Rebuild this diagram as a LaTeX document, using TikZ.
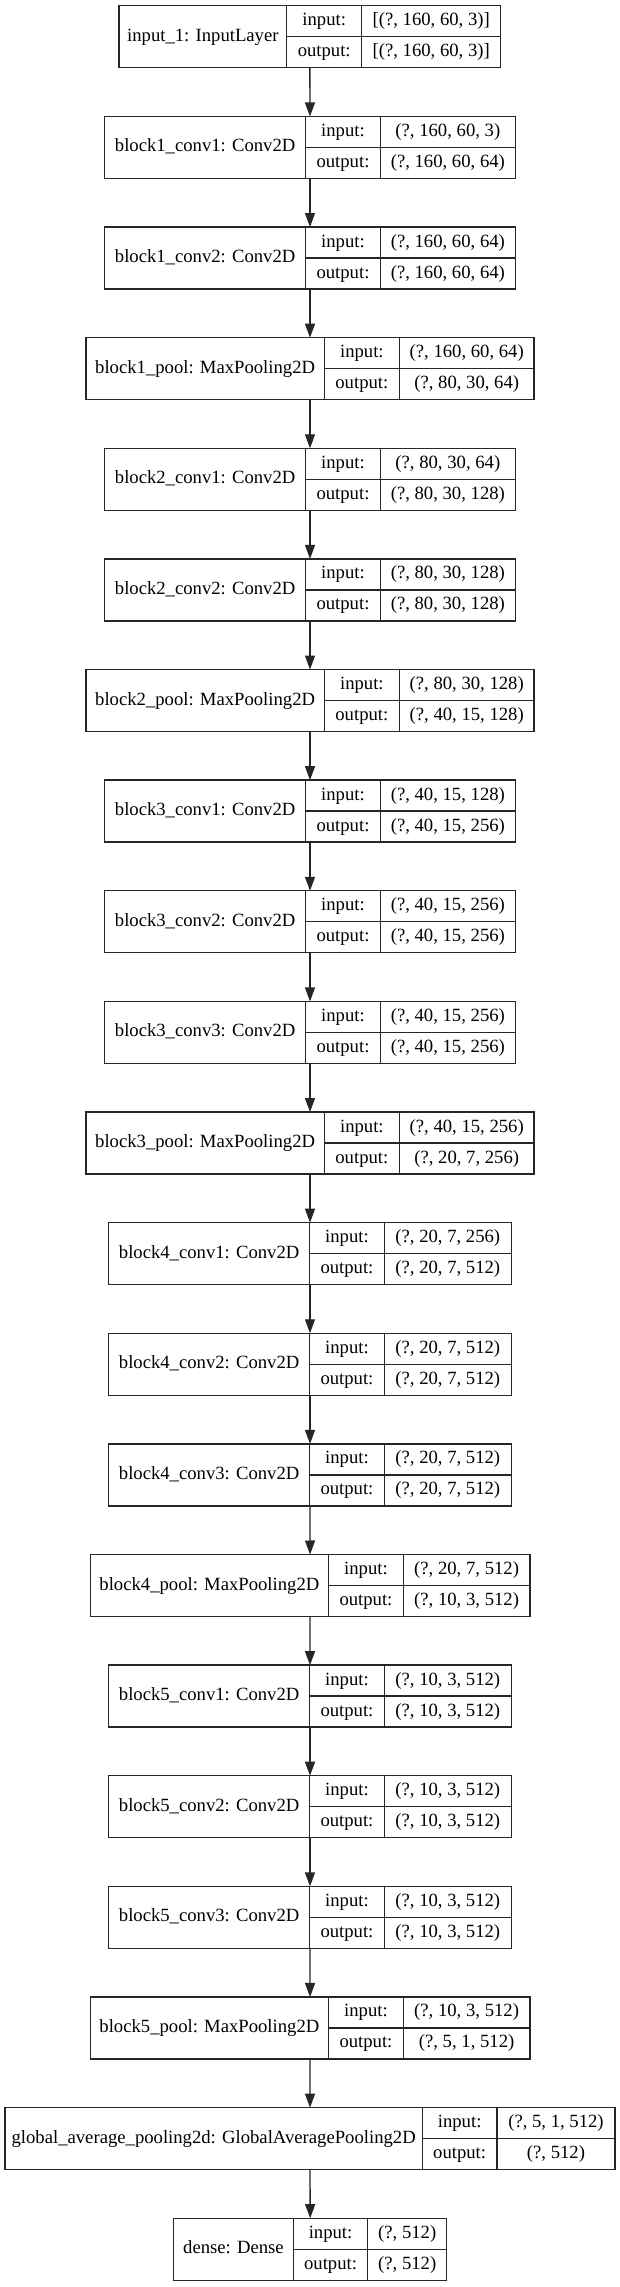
\documentclass[tikz,border=0pt]{standalone}
\usepackage{fontspec}
\setmainfont{Liberation Serif}
\usetikzlibrary{arrows.meta}
\tikzset{
  box/.style={draw=black!85, line width=1.33pt, minimum height=62pt, inner sep=0pt, outer sep=0pt},
  cell/.style={draw=black!85, line width=1.33pt},
  txt/.style={inner sep=0pt, text height=13pt, text depth=4pt, font=\fontsize{18.67}{22}\selectfont},
  flow/.style={draw=black!85, line width=1.33pt, -{Triangle[length=14pt,width=10pt]}}
}
\newcommand\layer[9]{%
  \pgfmathsetmacro\yt{5.8+110.62*#2}%
  \pgfmathsetmacro\yc{\yt+31}%
  \pgfmathsetmacro\ym{\yt+15.5}%
  \pgfmathsetmacro\yo{\yt+46.5}%
  \node[box, minimum width={#6-#3}] (#1) at ({(#3+#6)/2},\yc) {};
  \draw[cell] (#4,\yt) -- (#4,\yt+62) (#5,\yt) -- (#5,\yt+62) (#4,\yc) -- (#6,\yc);
  \node[txt] (#1-name) at ({(#3+#4)/2},\yc) {#7};
  \node[txt] (#1-ik) at ({(#4+#5)/2},\ym) {input:};
  \node[txt] (#1-ok) at ({(#4+#5)/2},\yo) {output:};
  \node[txt] (#1-iv) at ({(#5+#6)/2},\ym) {#8};
  \node[txt] (#1-ov) at ({(#5+#6)/2},\yo) {#9};
}
\begin{document}
\begin{tikzpicture}[x=1pt,y=-1pt]
\useasboundingbox[fill=white] (0,0) rectangle (620,2287);
\layer{in1}{0}{119}{286.7}{361.7}{500.7}{input\_1: InputLayer}{[(?, 160, 60, 3)]}{[(?, 160, 60, 3)]}
\layer{b1c1}{1}{104.7}{305.6}{380.4}{515.3}{block1\_conv1: Conv2D}{(?, 160, 60, 3)}{(?, 160, 60, 64)}
\layer{b1c2}{2}{104.7}{305.6}{380.4}{515.3}{block1\_conv2: Conv2D}{(?, 160, 60, 64)}{(?, 160, 60, 64)}
\layer{b1p}{3}{86}{324.3}{399.4}{534}{block1\_pool: MaxPooling2D}{(?, 160, 60, 64)}{(?, 80, 30, 64)}
\layer{b2c1}{4}{104.7}{305.6}{380.4}{515.3}{block2\_conv1: Conv2D}{(?, 80, 30, 64)}{(?, 80, 30, 128)}
\layer{b2c2}{5}{104.7}{305.6}{380.4}{515.3}{block2\_conv2: Conv2D}{(?, 80, 30, 128)}{(?, 80, 30, 128)}
\layer{b2p}{6}{86}{324.3}{399.4}{534}{block2\_pool: MaxPooling2D}{(?, 80, 30, 128)}{(?, 40, 15, 128)}
\layer{b3c1}{7}{104.7}{305.6}{380.4}{515.3}{block3\_conv1: Conv2D}{(?, 40, 15, 128)}{(?, 40, 15, 256)}
\layer{b3c2}{8}{104.7}{305.6}{380.4}{515.3}{block3\_conv2: Conv2D}{(?, 40, 15, 256)}{(?, 40, 15, 256)}
\layer{b3c3}{9}{104.7}{305.6}{380.4}{515.3}{block3\_conv3: Conv2D}{(?, 40, 15, 256)}{(?, 40, 15, 256)}
\layer{b3p}{10}{86}{324.3}{399.4}{534}{block3\_pool: MaxPooling2D}{(?, 40, 15, 256)}{(?, 20, 7, 256)}
\layer{b4c1}{11}{108.7}{309.6}{384.3}{511.3}{block4\_conv1: Conv2D}{(?, 20, 7, 256)}{(?, 20, 7, 512)}
\layer{b4c2}{12}{108.7}{309.6}{384.3}{511.3}{block4\_conv2: Conv2D}{(?, 20, 7, 512)}{(?, 20, 7, 512)}
\layer{b4c3}{13}{108.7}{309.6}{384.3}{511.3}{block4\_conv3: Conv2D}{(?, 20, 7, 512)}{(?, 20, 7, 512)}
\layer{b4p}{14}{90.2}{328.6}{403.3}{529.9}{block4\_pool: MaxPooling2D}{(?, 20, 7, 512)}{(?, 10, 3, 512)}
\layer{b5c1}{15}{108.7}{309.6}{384.3}{511.3}{block5\_conv1: Conv2D}{(?, 10, 3, 512)}{(?, 10, 3, 512)}
\layer{b5c2}{16}{108.7}{309.6}{384.3}{511.3}{block5\_conv2: Conv2D}{(?, 10, 3, 512)}{(?, 10, 3, 512)}
\layer{b5c3}{17}{108.7}{309.6}{384.3}{511.3}{block5\_conv3: Conv2D}{(?, 10, 3, 512)}{(?, 10, 3, 512)}
\layer{b5p}{18}{90.2}{328.6}{403.3}{529.9}{block5\_pool: MaxPooling2D}{(?, 10, 3, 512)}{(?, 5, 1, 512)}
\layer{gap}{19}{5}{422.3}{497}{615}{global\_average\_pooling2d: GlobalAveragePooling2D}{(?, 5, 1, 512)}{(?, 512)}
\layer{dense}{20}{173.6}{293.4}{367.7}{446.8}{dense: Dense}{(?, 512)}{(?, 512)}
\foreach \a/\b in {in1/b1c1, b1c1/b1c2, b1c2/b1p, b1p/b2c1, b2c1/b2c2, b2c2/b2p, b2p/b3c1, b3c1/b3c2, b3c2/b3c3, b3c3/b3p, b3p/b4c1, b4c1/b4c2, b4c2/b4c3, b4c3/b4p, b4p/b5c1, b5c1/b5c2, b5c2/b5c3, b5c3/b5p, b5p/gap, gap/dense}
  \draw[flow] (\a.south) -- (\b.north);
\end{tikzpicture}
\end{document}
